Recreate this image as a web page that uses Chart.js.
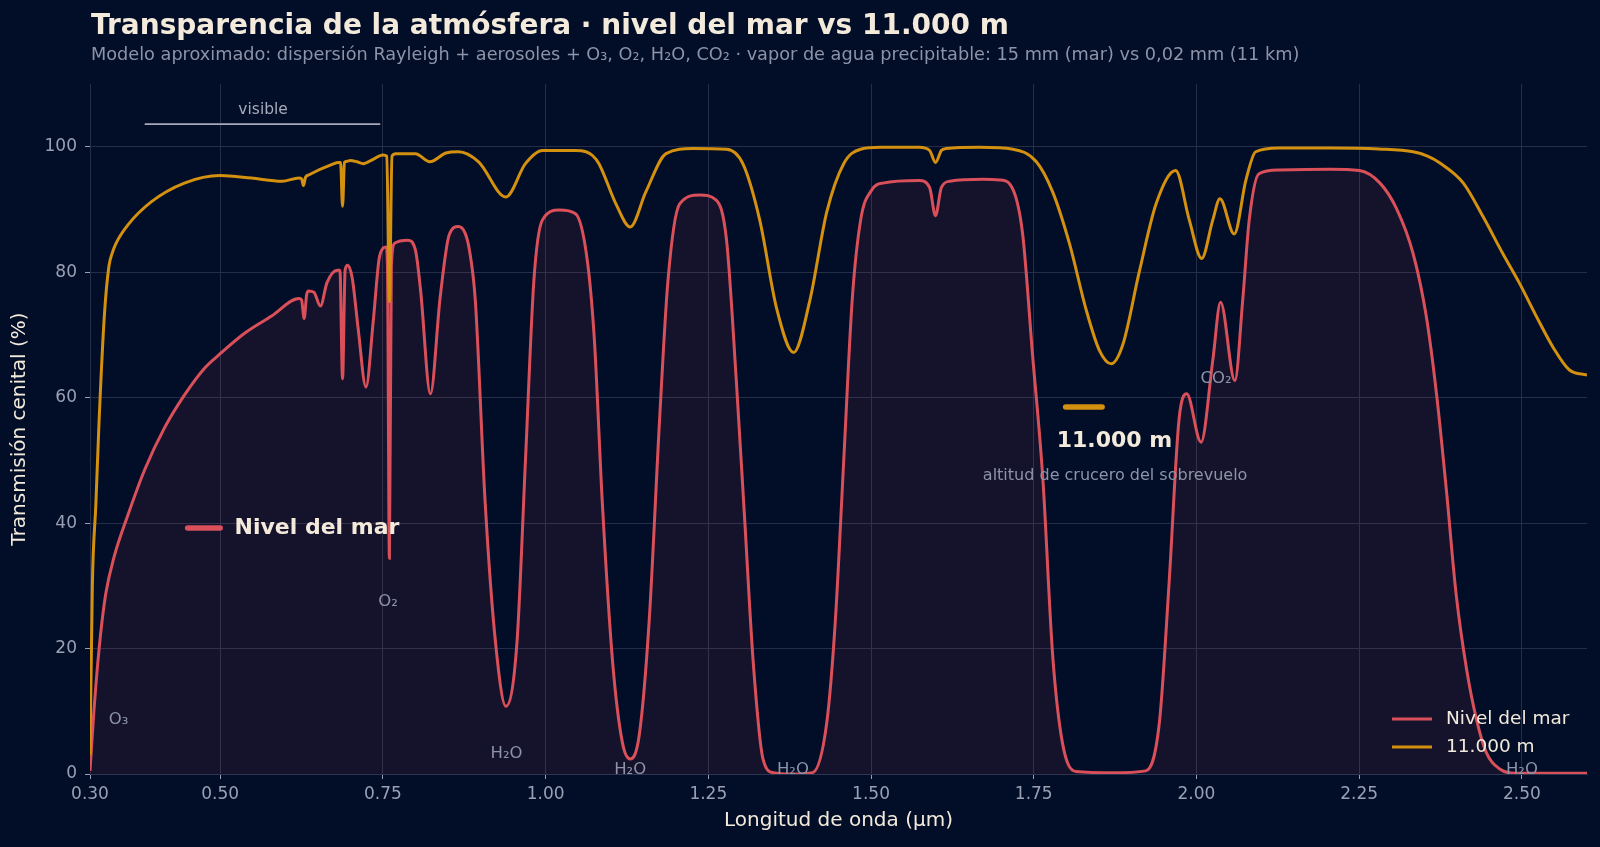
<!DOCTYPE html>
<html lang="es">
<head>
<meta charset="utf-8">
<title>Transparencia de la atmósfera</title>
<script src="https://cdn.jsdelivr.net/npm/chart.js@4.4.1/dist/chart.umd.min.js"></script>
<style>
  html, body { margin: 0; padding: 0; background: #020e27; }
  canvas { display: block; }
</style>
</head>
<body>
<canvas id="atmChart" width="1600" height="847"></canvas>
<script>
// transmisión cenital (µm, %)
const seaLevelWavelengths = [
  0.300, 0.306, 0.314, 0.324, 0.337, 0.358, 0.384, 0.414, 0.445, 0.476,
  0.500, 0.538, 0.579, 0.621, 0.625, 0.629, 0.633, 0.636, 0.644, 0.654,
  0.664, 0.680, 0.684, 0.688, 0.692, 0.696, 0.703, 0.712, 0.724, 0.735,
  0.744, 0.750, 0.755, 0.757, 0.760, 0.763, 0.768, 0.788, 0.800, 0.808,
  0.823, 0.838, 0.852, 0.866, 0.876, 0.883, 0.892, 0.907, 0.923, 0.939,
  0.956, 0.969, 0.982, 0.995, 1.021, 1.046, 1.064, 1.075, 1.087, 1.103,
  1.118, 1.130, 1.144, 1.159, 1.175, 1.188, 1.206, 1.237, 1.262, 1.278,
  1.293, 1.306, 1.319, 1.334, 1.350, 1.380, 1.410, 1.432, 1.445, 1.458,
  1.471, 1.484, 1.501, 1.518, 1.574, 1.590, 1.599, 1.608, 1.621, 1.672,
  1.698, 1.718, 1.733, 1.748, 1.764, 1.779, 1.794, 1.815, 1.870, 1.922,
  1.943, 1.958, 1.973, 1.985, 2.007, 2.025, 2.037, 2.059, 2.071, 2.081,
  2.096, 2.127, 2.205, 2.250, 2.282, 2.307, 2.333, 2.353, 2.369, 2.384,
  2.399, 2.415, 2.430, 2.445, 2.466, 2.491, 2.530, 2.600
];
const seaLevelTransmission = [
  0.5, 10, 20, 28.6, 34.6, 41.2, 48.5, 55.1, 60.4, 64.7,
  67, 70.3, 73, 75.8, 75.6, 72.6, 76.5, 77, 76.8, 74.6,
  78.3, 80.3, 80.3, 63, 80.4, 81.1, 79, 71, 61.7, 72,
  82, 83.8, 84, 81, 34.4, 81, 84.6, 85.1, 83.5, 77,
  60.6, 76, 86, 87.3, 86.3, 83.5, 75.5, 43.5, 21, 10.8,
  21, 49.9, 78.7, 88.3, 89.9, 89.3, 81.9, 69.1, 43.5, 17.8,
  5, 2.4, 6.3, 24.2, 56.3, 78.7, 90.9, 92.3, 91.5, 85.1,
  62.7, 40.3, 17.8, 2.4, 0.2, 0, 0.2, 8.2, 24.2, 49.9,
  75.5, 88.3, 93.1, 94.2, 94.6, 93.5, 89, 93.5, 94.5, 94.8,
  94.7, 93.2, 86, 67, 47, 19, 5, 0.4, 0.2, 0.5,
  8.2, 30.6, 56.3, 60.6, 52.9, 65.9, 75.2, 62.7, 75.5, 88.3,
  95.7, 96.3, 96.4, 96.2, 94.2, 90.2, 82.9, 73, 60.4, 45.2,
  28.6, 16.7, 8.8, 3.5, 0.8, 0.1, 0.1, 0.1
];

const cruiseWavelengths = [
  0.300, 0.3036, 0.309, 0.314, 0.322, 0.329, 0.334, 0.340, 0.358, 0.394,
  0.445, 0.500, 0.548, 0.595, 0.621, 0.625, 0.628, 0.631, 0.636, 0.672,
  0.682, 0.685, 0.688, 0.691, 0.695, 0.700, 0.710, 0.720, 0.735, 0.750,
  0.756, 0.760, 0.764, 0.770, 0.800, 0.822, 0.847, 0.866, 0.897, 0.939,
  0.969, 0.995, 1.045, 1.062, 1.072, 1.082, 1.108, 1.130, 1.154, 1.185,
  1.226, 1.278, 1.303, 1.329, 1.355, 1.381, 1.406, 1.432, 1.458, 1.484,
  1.514, 1.574, 1.590, 1.599, 1.608, 1.615, 1.667, 1.718, 1.754, 1.779,
  1.805, 1.830, 1.851, 1.869, 1.887, 1.912, 1.938, 1.968, 1.989, 2.008,
  2.025, 2.036, 2.058, 2.076, 2.091, 2.127, 2.205, 2.280, 2.333, 2.355,
  2.374, 2.410, 2.440, 2.471, 2.496, 2.522, 2.548, 2.573, 2.600
];
const cruiseTransmission = [
  3, 30, 43, 56.4, 73, 80.9, 83, 84.6, 87.5, 91.2,
  94.2, 95.4, 95, 94.5, 95, 94.9, 93.8, 95.1, 95.5, 97.2,
  97.5, 97.5, 90.5, 97.5, 97.7, 97.8, 97.6, 97.3, 98, 98.7,
  98.5, 75.3, 98.5, 98.9, 98.9, 97.6, 99, 99.2, 97.6, 92,
  97.3, 99.4, 99.4, 99.2, 98.6, 97.3, 90.9, 87.2, 92.8, 98.9,
  99.7, 99.6, 97.3, 88.3, 74.2, 67.2, 75.5, 89.6, 97.3, 99.6,
  99.9, 99.9, 99.4, 97.5, 99.4, 99.7, 99.9, 99.6, 97.6, 92.8,
  84.5, 74.2, 67.5, 65.4, 68.5, 80, 90.9, 96.2, 88.3, 82.2,
  88.3, 91.7, 86.1, 94.7, 99.2, 99.8, 99.8, 99.65, 99.2, 98.5,
  97.4, 94.2, 88.9, 82.9, 78.3, 73, 68, 64.4, 63.6
];

const seriesNames = ['Nivel del mar', '11.000 m'];
const xTickValues = [0.30, 0.50, 0.75, 1.00, 1.25, 1.50, 1.75, 2.00, 2.25, 2.50];
const yTickValues = [0, 20, 40, 60, 80, 100];

// etiquetas de bandas de absorción (µm, %)
const bandLabels = [
  { text: 'O₃', x: 0.344, y: 8.6 },
  { text: 'O₂', x: 0.758, y: 27.4 },
  { text: 'H₂O', x: 0.940, y: 3.3 },
  { text: 'H₂O', x: 1.130, y: 0.7 },
  { text: 'H₂O', x: 1.380, y: 0.7 },
  { text: 'CO₂', x: 2.030, y: 63.0 },
  { text: 'H₂O', x: 2.500, y: 0.7 }
];

const RED = '#d9505a';
const GOLD = '#d4900f';
const CREAM = '#f3eadb';
const MUTED = '#8d93a8';
const GRID = '#242e48';
const FONT = '"DejaVu Sans", "Noto Sans", sans-serif';

function toPoints(xs, ys) {
  return xs.map((x, i) => ({ x: x, y: ys[i] }));
}

const overlay = {
  id: 'overlay',
  beforeDraw(chart) {
    const ctx = chart.ctx;
    ctx.save();
    ctx.fillStyle = '#020e27';
    ctx.fillRect(0, 0, chart.width, chart.height);
    ctx.textBaseline = 'alphabetic';
    ctx.textAlign = 'left';
    ctx.fillStyle = CREAM;
    ctx.font = 'bold 28px ' + FONT;
    ctx.fillText('Transparencia de la atmósfera · nivel del mar vs 11.000 m', 91, 34);
    ctx.fillStyle = MUTED;
    ctx.font = '17.7px ' + FONT;
    ctx.fillText('Modelo aproximado: dispersión Rayleigh + aerosoles + O₃, O₂, H₂O, CO₂ · vapor de agua precipitable: 15 mm (mar) vs 0,02 mm (11 km)', 91, 60);
    ctx.restore();
  },
  afterDatasetsDraw(chart) {
    const { ctx, chartArea } = chart;
    const x = chart.scales.x, y = chart.scales.y;
    ctx.save();
    ctx.lineCap = 'round';

    // franja visible
    ctx.strokeStyle = '#a6a9ba';
    ctx.lineWidth = 1.6;
    ctx.beginPath();
    ctx.moveTo(x.getPixelForValue(0.385), y.getPixelForValue(103.6));
    ctx.lineTo(x.getPixelForValue(0.745), y.getPixelForValue(103.6));
    ctx.stroke();
    ctx.fillStyle = '#a6a9ba';
    ctx.font = '15.5px ' + FONT;
    ctx.textAlign = 'center';
    ctx.textBaseline = 'middle';
    ctx.fillText('visible', x.getPixelForValue(0.566), y.getPixelForValue(105.9));

    // bandas
    ctx.fillStyle = MUTED;
    ctx.font = '16.5px ' + FONT;
    bandLabels.forEach(b => {
      ctx.fillText(b.text, x.getPixelForValue(b.x), y.getPixelForValue(b.y));
    });

    // etiqueta directa: nivel del mar
    ctx.strokeStyle = RED;
    ctx.lineWidth = 5.5;
    ctx.beginPath();
    ctx.moveTo(x.getPixelForValue(0.450), y.getPixelForValue(39.2));
    ctx.lineTo(x.getPixelForValue(0.500), y.getPixelForValue(39.2));
    ctx.stroke();
    ctx.fillStyle = CREAM;
    ctx.font = 'bold 22px ' + FONT;
    ctx.textAlign = 'left';
    ctx.fillText(seriesNames[0], x.getPixelForValue(0.522), y.getPixelForValue(39.2));

    // etiqueta directa: 11.000 m
    ctx.strokeStyle = GOLD;
    ctx.beginPath();
    ctx.moveTo(x.getPixelForValue(1.799), y.getPixelForValue(58.5));
    ctx.lineTo(x.getPixelForValue(1.855), y.getPixelForValue(58.5));
    ctx.stroke();
    ctx.textAlign = 'center';
    ctx.fillText(seriesNames[1], x.getPixelForValue(1.874), y.getPixelForValue(53.1));
    ctx.fillStyle = MUTED;
    ctx.font = '16px ' + FONT;
    ctx.fillText('altitud de crucero del sobrevuelo', x.getPixelForValue(1.875), y.getPixelForValue(47.6));

    // leyenda
    const lx = chartArea.right - 195, ly = chartArea.bottom - 55;
    [RED, GOLD].forEach((c, i) => {
      ctx.strokeStyle = c;
      ctx.lineWidth = 3;
      ctx.lineCap = 'butt';
      ctx.beginPath();
      ctx.moveTo(lx, ly + i * 28);
      ctx.lineTo(lx + 40, ly + i * 28);
      ctx.stroke();
      ctx.fillStyle = CREAM;
      ctx.font = '18.5px ' + FONT;
      ctx.textAlign = 'left';
      ctx.fillText(seriesNames[i], lx + 54, ly + i * 28);
    });
    ctx.restore();
  }
};

new Chart(document.getElementById('atmChart'), {
  type: 'line',
  data: {
    datasets: [
      {
        label: seriesNames[1],
        data: toPoints(cruiseWavelengths, cruiseTransmission),
        borderColor: GOLD,
        borderWidth: 3,
        pointRadius: 0,
        fill: false,
        cubicInterpolationMode: 'monotone',
        order: 0
      },
      {
        label: seriesNames[0],
        data: toPoints(seaLevelWavelengths, seaLevelTransmission),
        borderColor: RED,
        backgroundColor: 'rgba(217, 80, 90, 0.09)',
        borderWidth: 3,
        pointRadius: 0,
        fill: 'origin',
        cubicInterpolationMode: 'monotone',
        order: 1
      }
    ]
  },
  options: {
    responsive: false,
    animation: false,
    devicePixelRatio: 1,
    layout: { padding: { left: 0, right: 13, top: 84, bottom: 0 } },
    plugins: {
      legend: { display: false },
      title: { display: false },
      tooltip: { enabled: false }
    },
    scales: {
      x: {
        type: 'linear',
        min: 0.30,
        max: 2.60,
        afterBuildTicks: s => { s.ticks = xTickValues.map(v => ({ value: v })); },
        afterFit: s => { s.height = 73; },
        ticks: {
          color: '#9aa0b4',
          font: { family: FONT, size: 17 },
          padding: 5,
          maxRotation: 0,
          autoSkip: false,
          callback: v => Number(v).toFixed(2)
        },
        grid: { color: GRID, lineWidth: 1, tickLength: 5, tickColor: '#9aa0b4' },
        border: { display: true, color: '#2c3652' },
        title: {
          display: true,
          text: 'Longitud de onda (µm)',
          color: CREAM,
          font: { family: FONT, size: 20 },
          padding: { top: 0, bottom: 14 }
        }
      },
      y: {
        min: 0,
        max: 110,
        afterBuildTicks: s => { s.ticks = yTickValues.map(v => ({ value: v })); },
        afterFit: s => { s.width = 90; },
        ticks: {
          color: '#9aa0b4',
          font: { family: FONT, size: 17 },
          padding: 8
        },
        grid: { color: GRID, lineWidth: 1, tickLength: 5, tickColor: '#9aa0b4' },
        border: { display: true, color: GRID },
        title: {
          display: true,
          text: 'Transmisión cenital (%)',
          color: CREAM,
          font: { family: FONT, size: 20 },
          padding: { top: 8, bottom: 8 }
        }
      }
    }
  },
  plugins: [overlay]
});
</script>
</body>
</html>
